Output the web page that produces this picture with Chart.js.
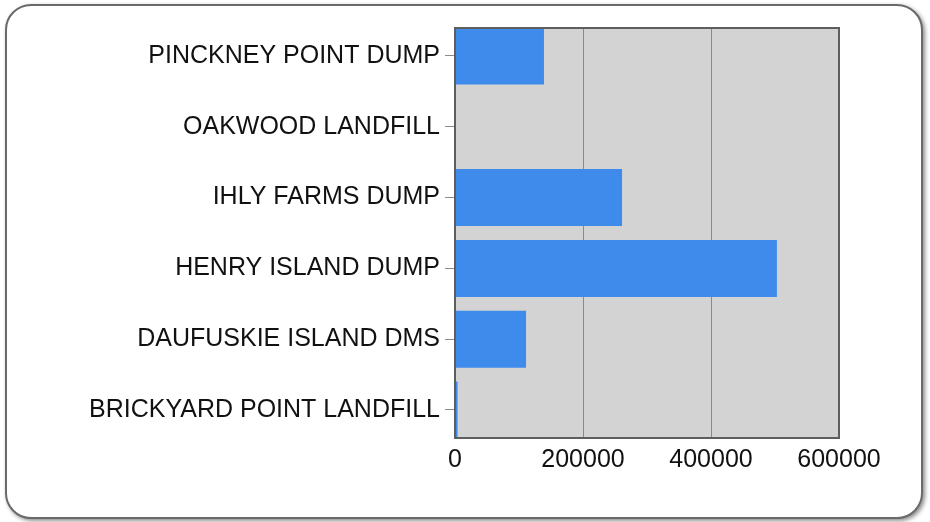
<!DOCTYPE html>
<html>
<head>
<meta charset="utf-8">
<script src="https://cdn.jsdelivr.net/npm/chart.js@4"></script>
<style>
  html, body { margin: 0; padding: 0; background: #ffffff; }
  body { width: 930px; height: 522px; position: relative; overflow: hidden; }
  #card {
    position: absolute; left: 5px; top: 4px; width: 914px; height: 511px;
    border: 2px solid #6a6a6a; border-radius: 26px; background: #fff;
    box-shadow: 2px 2px 4px rgba(0,0,0,0.45);
  }
  #wrap { position: absolute; left: 0; top: 0; width: 930px; height: 522px; }
</style>
</head>
<body>
<div id="card"></div>
<div id="wrap"><canvas id="c" width="930" height="522"></canvas></div>
<script>
const categories = [
  "PINCKNEY POINT DUMP",
  "OAKWOOD LANDFILL",
  "IHLY FARMS DUMP",
  "HENRY ISLAND DUMP",
  "DAUFUSKIE ISLAND DMS",
  "BRICKYARD POINT LANDFILL"
];
const values = [139000, 0, 261000, 503000, 111000, 4000];
const xTicks = [0, 200000, 400000, 600000];

// plot frame is inset vertically from the category band area (as in the original)
const FRAME_INSET = 7.4;

const plotFrame = {
  id: 'plotFrame',
  beforeDatasetsDraw(chart) {
    const a = chart.chartArea, ctx = chart.ctx, xs = chart.scales.x;
    const top = a.top + FRAME_INSET, bottom = a.bottom - FRAME_INSET;
    ctx.save();
    ctx.fillStyle = '#d3d3d3';
    ctx.fillRect(a.left, top, a.right - a.left, bottom - top);
    ctx.strokeStyle = '#8a8a8a';
    ctx.lineWidth = 1;
    xTicks.forEach(v => {
      const x = Math.round(xs.getPixelForValue(v)) + 0.5;
      ctx.beginPath();
      ctx.moveTo(x, top);
      ctx.lineTo(x, bottom);
      ctx.stroke();
    });
    ctx.restore();
  },
  afterDraw(chart) {
    const a = chart.chartArea, ctx = chart.ctx;
    const top = a.top + FRAME_INSET, bottom = a.bottom - FRAME_INSET;
    ctx.save();
    ctx.strokeStyle = '#5e5e5e';
    ctx.lineWidth = 2;
    ctx.strokeRect(a.left, top, a.right - a.left, bottom - top);
    ctx.restore();
  }
};

new Chart(document.getElementById('c'), {
  type: 'bar',
  data: {
    labels: categories,
    datasets: [{
      data: values,
      backgroundColor: '#3e8bec',
      borderWidth: 0,
      barPercentage: 0.805,
      categoryPercentage: 1.0
    }]
  },
  options: {
    indexAxis: 'y',
    responsive: false,
    animation: false,
    devicePixelRatio: 1,
    layout: { padding: { left: 10, top: 20.6, right: 91, bottom: 10 } },
    plugins: { legend: { display: false }, tooltip: { enabled: false } },
    scales: {
      x: {
        type: 'linear',
        min: 0, max: 600000,
        afterBuildTicks(scale) { scale.ticks = xTicks.map(v => ({ value: v })); },
        afterFit(scale) { scale.height = 522 - 445.4 - 10; },
        grid: { display: false, drawTicks: false },
        border: { display: false },
        ticks: {
          color: '#111',
          padding: 0,
          maxRotation: 0,
          callback: v => String(v),
          font: { family: 'Liberation Sans, Arial, sans-serif', size: 25 }
        }
      },
      y: {
        afterFit(scale) { scale.width = 455 - 10; },
        grid: { offset: false, drawOnChartArea: false, drawTicks: true, tickLength: 10, color: '#8a8a8a' },
        border: { display: false },
        ticks: {
          color: '#111',
          padding: 5,
          font: { family: 'Liberation Sans, Arial, sans-serif', size: 25 }
        }
      }
    }
  },
  plugins: [plotFrame]
});
</script>
</body>
</html>
